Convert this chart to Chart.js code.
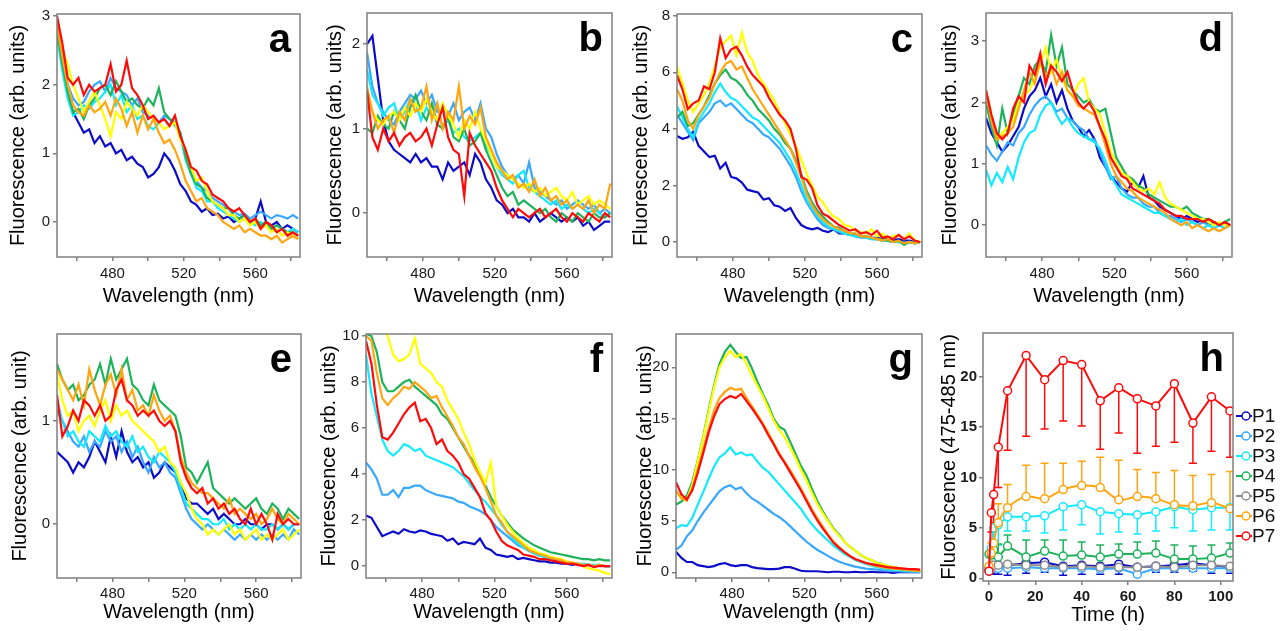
<!DOCTYPE html>
<html>
<head>
<meta charset="utf-8">
<script src="https://cdn.jsdelivr.net/npm/chart.js@4.4.0/dist/chart.umd.min.js"></script>
<style>
  body { margin: 0; background: #fff; width: 1288px; height: 631px; position: relative; overflow: hidden; }
  canvas { position: absolute; }
</style>
</head>
<body>
<canvas id="pa" width="310" height="310" style="left:0;top:0"></canvas>
<canvas id="pb" width="310" height="310" style="left:310px;top:0"></canvas>
<canvas id="pc" width="310" height="310" style="left:620px;top:0"></canvas>
<canvas id="pd" width="358" height="310" style="left:930px;top:0"></canvas>
<canvas id="pe" width="310" height="321" style="left:0;top:310px"></canvas>
<canvas id="pf" width="310" height="321" style="left:310px;top:310px"></canvas>
<canvas id="pg" width="310" height="321" style="left:620px;top:310px"></canvas>
<canvas id="ph" width="358" height="321" style="left:930px;top:310px"></canvas>
<script>
const FONT = "'Liberation Sans', Arial, sans-serif";
Chart.defaults.font.family = FONT;

// wavelength grid shared by panels a-g (nm)
const wavelengths = [449, 452, 455, 458, 461, 464, 467, 470, 473, 476, 479, 482, 485, 488, 491, 494, 497, 500, 503, 506,
  509, 512, 515, 518, 521, 524, 527, 530, 533, 536, 539, 542, 545, 548, 551, 554, 557, 560, 563, 566,
  569, 572, 575, 578, 581, 584];

const seriesNames = ["P1", "P2", "P3", "P4", "P5", "P6", "P7"];
const spectraColors = ["#0b0bc8", "#38a8ff", "#14eaff", "#1db35a", "#ffff00", "#ffa510", "#ff0a0a"];
const timeColors = ["#0b0bc8", "#38a8ff", "#14eaff", "#1db35a", "#8c8c8c", "#ffa510", "#ff0a0a"];

// panel a
const aP1 = [2.7,2.4,1.9,1.6,1.45,1.3,1.35,1.15,1.25,1.1, 1.15,1.0,1.05,0.9,0.95,0.85,0.8,0.65,0.7,0.8, 1.0,0.9,0.75,0.55,0.45,0.3,0.25,0.15,0.2,0.1, 0.12,0.05,0.08,0.0,0.05,0.1,0.0,0.05,0.3,0.0, -0.05,0.0,-0.1,-0.05,-0.1,-0.15];
const aP2 = [2.9,2.4,2.0,1.8,1.7,1.75,1.9,2.0,2.05,1.9, 2.1,1.95,1.9,1.85,1.7,1.8,1.6,1.55,1.5,1.45, 1.55,1.5,1.4,1.3,1.0,0.75,0.6,0.5,0.45,0.35, 0.3,0.25,0.2,0.15,0.1,0.12,0.05,0.1,0.15,0.1, 0.05,0.1,0.08,0.05,0.1,0.05];
const aP3 = [2.7,2.2,1.8,1.55,1.6,1.7,1.65,1.75,1.8,1.9, 2.0,1.7,1.85,1.6,1.7,1.5,1.55,1.4,1.35,1.45, 1.5,1.4,1.45,1.25,0.9,0.7,0.5,0.45,0.3,0.3, 0.2,0.15,0.1,0.05,0.0,0.05,0.0,-0.05,0.0,-0.05, -0.1,-0.05,-0.1,-0.15,-0.1,-0.15];
const aP4 = [2.8,2.3,1.9,1.6,1.65,1.5,1.7,1.8,1.95,2.0, 1.85,2.05,1.9,1.75,1.8,1.7,1.65,1.8,1.7,1.95, 1.6,1.5,1.45,1.3,0.95,0.7,0.55,0.5,0.35,0.3, 0.25,0.2,0.2,0.1,0.05,0.1,0.0,0.05,-0.05,0.0, -0.1,-0.05,-0.1,-0.15,-0.15,-0.2];
const aP5 = [2.9,2.5,2.3,2.0,1.8,1.6,1.75,1.9,1.7,1.5, 1.25,1.6,1.5,1.75,1.65,1.55,1.7,1.6,1.5,1.45, 1.35,1.4,1.45,1.2,1.05,0.8,0.6,0.65,0.45,0.3, 0.25,0.2,0.1,0.1,0.0,0.05,-0.05,0.0,-0.1,-0.05, -0.15,-0.1,-0.2,-0.15,-0.2,-0.25];
const aP6 = [2.9,2.4,2.0,1.7,1.6,1.55,1.7,1.6,1.65,1.75, 1.55,1.8,1.65,1.4,1.6,1.3,1.55,1.35,1.5,1.3, 1.15,1.2,1.05,0.85,0.6,0.45,0.3,0.35,0.2,0.15, 0.1,0.0,-0.05,-0.1,-0.05,-0.15,-0.1,-0.15,-0.2,-0.2, -0.25,-0.2,-0.3,-0.25,-0.2,-0.25];
const aP7 = [3.0,2.6,2.1,2.0,2.1,1.85,2.0,1.9,1.95,2.0, 2.3,1.9,2.0,2.35,1.95,1.85,1.7,1.5,1.55,1.45, 1.5,1.4,1.55,1.25,1.05,0.8,0.75,0.6,0.55,0.4, 0.35,0.3,0.2,0.15,0.2,0.1,0.0,0.05,-0.1,0.0, -0.05,-0.15,-0.1,-0.2,-0.15,-0.2];

// panel b
const bP1 = [2.0,2.1,1.6,1.1,0.85,0.75,0.7,0.65,0.6,0.7, 0.6,0.65,0.55,0.55,0.4,0.6,0.5,0.55,0.6,0.45, 0.7,0.6,0.4,0.3,0.15,0.1,0.0,0.05,-0.05,-0.05, -0.1,0.0,-0.1,-0.05,0.0,-0.05,-0.1,-0.05,-0.1,-0.05, -0.15,-0.1,-0.2,-0.15,-0.1,-0.1];
const bP2 = [1.9,1.5,1.3,1.2,1.1,1.05,1.2,1.3,1.4,1.35, 1.45,1.3,1.4,1.2,1.25,1.15,1.3,1.1,1.2,1.25, 1.1,1.3,1.0,0.9,0.7,0.55,0.45,0.4,0.45,0.35, 0.6,0.3,0.25,0.2,0.15,0.1,0.15,0.05,0.1,0.15, 0.1,0.05,0.1,0.0,0.05,0.0];
const bP3 = [1.7,1.4,1.3,1.15,1.25,1.3,1.1,1.2,1.35,1.3, 1.1,1.25,1.15,1.3,1.0,1.1,0.95,1.0,0.9,0.85, 0.9,0.95,0.8,0.7,0.55,0.45,0.4,0.35,0.45,0.5, 0.3,0.25,0.2,0.15,0.1,0.15,0.05,0.1,0.05,0.1, 0.05,0.0,0.05,0.0,-0.05,0.0];
const bP4 = [1.0,0.95,1.15,1.05,1.0,1.2,1.1,1.0,1.25,1.4, 1.2,1.1,1.3,1.05,1.0,1.15,0.9,0.85,1.0,0.8, 0.85,0.95,0.75,0.6,0.45,0.3,0.2,0.25,0.1,0.15, 0.1,0.05,0.0,0.05,-0.05,-0.1,0.0,-0.05,-0.1,0.0, -0.05,-0.1,0.0,-0.05,-0.05,0.0];
const bP5 = [1.4,1.2,1.1,1.05,1.15,1.2,1.1,1.25,1.15,1.3, 1.2,1.35,1.2,1.1,1.3,1.15,1.05,0.9,1.1,1.0, 1.2,1.0,0.85,0.7,0.55,0.5,0.45,0.4,0.35,0.3, 0.35,0.25,0.3,0.2,0.25,0.3,0.2,0.15,0.25,0.1, 0.15,0.2,0.1,0.15,0.1,0.05];
const bP6 = [1.5,1.2,1.0,1.1,1.15,0.95,1.2,1.1,1.35,1.2, 1.25,1.5,1.1,1.3,1.0,1.2,1.1,1.5,1.0,1.15, 1.05,1.25,0.9,0.75,0.6,0.5,0.4,0.45,0.3,0.35, 0.25,0.4,0.2,0.3,0.15,0.2,0.1,0.15,0.05,0.1, 0.05,0.15,0.0,0.1,0.05,0.35];
const bP7 = [1.45,0.9,0.75,1.0,0.85,0.95,0.8,0.9,0.95,0.85, 0.9,1.0,0.8,1.05,1.25,0.9,0.75,0.7,0.2,0.95, 0.8,0.7,0.6,0.5,0.3,0.15,0.05,-0.05,0.05,0.0, -0.05,0.0,0.05,-0.05,0.0,0.05,-0.05,-0.1,0.0,-0.05, -0.1,0.0,-0.05,-0.1,0.0,-0.05];

// panel c
const cP1 = [3.75,3.65,3.7,3.9,3.4,3.2,3.0,3.05,2.6,2.8, 2.3,2.25,2.1,1.85,1.8,1.75,1.5,1.55,1.3,1.25, 1.1,1.2,0.85,0.6,0.5,0.45,0.5,0.4,0.35,0.45, 0.3,0.3,0.25,0.25,0.2,0.2,0.15,0.15,0.1,0.1, 0.05,0.1,0.05,0.05,0.0,0.0];
const cP2 = [4.5,4.2,3.9,3.6,4.2,4.4,4.6,4.9,5.0,4.8, 4.9,4.7,4.5,4.3,4.2,4.0,3.8,3.7,3.5,3.3, 3.0,2.7,2.3,1.8,1.4,1.1,0.8,0.6,0.5,0.45, 0.35,0.3,0.25,0.2,0.15,0.15,0.1,0.1,0.05,0.05, 0.0,0.0,-0.05,0.0,-0.05,0.0];
const cP3 = [4.8,4.4,4.0,3.7,4.3,4.6,4.9,5.3,5.6,5.3, 5.1,5.0,4.8,4.6,4.4,4.3,4.1,3.9,3.7,3.5, 3.2,2.9,2.5,2.0,1.5,1.2,0.9,0.7,0.55,0.45, 0.4,0.3,0.25,0.2,0.2,0.15,0.1,0.1,0.05,0.05, 0.0,0.0,-0.05,0.0,-0.05,0.0];
const cP4 = [4.4,4.6,4.1,4.2,4.5,4.8,5.2,5.6,5.9,6.1, 5.8,5.7,5.5,5.2,5.0,4.7,4.5,4.3,4.0,3.8, 3.5,3.3,2.9,2.4,1.8,1.4,1.1,0.9,0.7,0.55, 0.5,0.4,0.3,0.3,0.2,0.2,0.15,0.1,0.1,0.05, 0.0,0.05,-0.1,0.0,-0.05,0.0];
const cP5 = [6.2,5.6,5.0,4.6,4.9,5.2,5.6,6.2,6.9,7.1, 7.3,6.6,7.4,6.7,6.4,5.9,5.6,5.3,5.0,4.6, 4.2,3.8,3.4,2.9,2.4,2.0,1.6,1.4,1.1,0.9, 0.8,0.6,0.55,0.4,0.35,0.3,0.45,0.2,0.3,0.15, 0.2,0.25,0.1,0.3,0.05,0.0];
const cP6 = [5.4,5.0,4.3,4.0,4.5,4.8,5.1,5.6,6.0,6.3, 6.4,6.1,6.2,5.8,5.4,5.1,4.8,4.5,4.2,3.9, 3.6,3.3,2.8,2.3,1.7,1.3,1.0,0.8,0.65,0.55, 0.45,0.4,0.3,0.3,0.2,0.2,0.15,0.1,0.05,0.1, 0.0,0.05,-0.05,0.0,-0.05,0.0];
const cP7 = [5.9,5.4,4.7,4.9,5.0,5.5,5.4,6.0,7.2,6.5, 6.8,6.9,6.6,6.2,5.9,5.7,5.5,5.1,4.8,4.5, 4.3,4.0,3.3,2.3,2.2,1.9,1.3,1.0,0.9,0.75, 0.6,0.5,0.4,0.45,0.3,0.35,0.25,0.4,0.15,0.2, 0.1,0.25,0.1,0.2,0.05,0.0];

// panel d
const dP1 = [1.75,1.5,1.35,1.2,1.3,1.45,1.6,1.9,2.1,2.2, 2.4,2.1,2.3,2.0,2.2,1.9,1.7,1.6,1.45,1.55, 1.4,1.1,0.95,0.8,0.7,0.6,0.55,0.7,0.6,0.8, 0.45,0.4,0.3,0.25,0.2,0.15,0.1,0.15,0.1,0.05, 0.1,0.0,0.05,0.0,0.05,0.0];
const dP2 = [1.3,1.15,1.05,1.2,1.35,1.3,1.5,1.6,1.8,1.95, 2.05,2.1,2.0,1.85,1.9,1.75,1.7,1.6,1.55,1.4, 1.4,1.2,0.95,0.75,0.8,0.6,0.5,0.45,0.45,0.35, 0.3,0.3,0.2,0.15,0.15,0.1,0.05,0.1,0.05,0.0, 0.05,0.0,-0.05,0.0,-0.05,0.0];
const dP3 = [0.9,0.65,0.85,0.7,0.95,0.75,1.1,1.35,1.5,1.55, 1.8,1.95,2.0,1.8,1.65,1.75,1.6,1.5,1.45,1.4, 1.35,1.25,1.05,0.8,0.65,0.5,0.45,0.4,0.35,0.3, 0.25,0.2,0.2,0.15,0.1,0.05,0.1,0.0,0.05,0.0, -0.05,0.0,-0.05,0.0,-0.05,0.0];
const dP4 = [2.0,1.6,1.3,1.9,1.5,1.8,2.1,2.4,2.3,2.6, 2.7,2.5,3.1,2.6,2.9,2.3,2.2,2.1,2.0,2.05, 1.9,1.85,1.9,1.5,1.1,0.95,0.8,0.75,0.65,0.6, 0.5,0.45,0.4,0.35,0.3,0.3,0.25,0.3,0.2,0.15, 0.1,0.1,0.05,0.0,0.05,0.1];
const dP5 = [2.2,1.8,1.4,1.5,1.6,1.7,2.0,2.1,2.2,2.4, 2.6,2.9,2.5,2.7,2.4,2.2,2.1,2.3,2.4,2.0, 1.9,1.8,1.5,1.2,1.0,0.85,0.8,0.7,0.6,0.55, 0.6,0.5,0.7,0.45,0.35,0.3,0.25,0.2,0.15,0.1, 0.1,0.05,0.0,0.05,0.0,0.0];
const dP6 = [2.2,1.7,1.4,1.45,1.5,1.6,1.9,2.2,2.5,2.3, 2.7,2.4,2.6,2.3,2.5,2.2,2.1,1.95,1.9,1.85, 1.8,1.6,1.3,1.0,0.8,0.7,0.6,0.55,0.45,0.4, 0.35,0.3,0.25,0.2,0.1,0.05,0.0,0.05,-0.05,0.0, -0.05,-0.1,-0.05,-0.1,-0.05,0.0];
const dP7 = [2.2,1.8,1.5,1.4,1.5,1.9,2.1,2.0,2.6,2.45, 2.8,2.3,2.6,2.5,2.35,2.5,2.2,2.0,1.9,2.0, 1.85,1.6,1.4,1.1,0.95,0.8,0.75,0.6,0.55,0.5, 0.45,0.4,0.35,0.25,0.2,0.15,0.15,0.1,0.1,0.1, 0.05,0.1,0.05,0.0,0.05,0.0];

// panel e
const eP1 = [0.7,0.65,0.6,0.5,0.6,0.55,0.65,0.8,0.7,0.6, 0.85,0.65,0.9,0.7,0.6,0.65,0.55,0.6,0.45,0.5, 0.6,0.55,0.5,0.4,0.25,0.2,0.2,0.15,0.1,0.15, 0.05,0.1,0.05,0.0,0.0,0.05,0.0,0.0,-0.05,0.0, 0.0,-0.05,0.0,-0.05,0.0,0.0];
const eP2 = [1.1,1.0,0.9,0.8,0.75,0.85,0.7,0.8,0.75,0.9, 0.8,0.85,0.7,0.8,0.65,0.75,0.6,0.5,0.65,0.55, 0.6,0.5,0.45,0.3,0.15,0.05,0.0,-0.05,0.0,-0.05, -0.1,-0.05,-0.1,-0.15,-0.1,-0.15,-0.1,-0.15,-0.1,-0.15, -0.1,-0.15,-0.1,-0.15,-0.05,-0.1];
const eP3 = [1.2,1.0,0.85,0.9,0.8,0.75,0.9,0.85,0.8,0.95, 0.85,0.9,0.8,0.75,0.85,0.7,0.75,0.65,0.6,0.7, 0.65,0.6,0.5,0.35,0.2,0.15,0.1,0.05,0.05,0.0, 0.0,0.05,-0.05,0.0,-0.05,0.0,-0.05,0.0,-0.05,-0.05, 0.0,-0.05,0.0,-0.05,0.0,0.0];
const eP4 = [1.55,1.4,1.3,1.35,1.2,1.25,1.35,1.4,1.55,1.35, 1.6,1.4,1.5,1.6,1.35,1.3,1.2,1.15,1.35,1.2, 1.15,1.1,1.05,0.85,0.55,0.5,0.4,0.5,0.6,0.35, 0.3,0.25,0.2,0.25,0.2,0.15,0.2,0.25,0.15,0.1, 0.2,0.15,0.05,0.15,0.1,0.05];
const eP5 = [1.45,1.2,1.05,1.1,0.9,1.0,1.05,0.95,1.1,1.2, 1.0,1.15,1.05,1.1,1.0,0.95,0.9,0.85,0.8,0.7, 0.75,0.6,0.55,0.4,0.3,0.15,0.05,0.0,-0.1,-0.05, -0.1,-0.05,0.0,-0.1,-0.05,-0.15,-0.1,-0.05,-0.15,-0.1, -0.15,-0.1,-0.05,-0.15,-0.1,-0.05];
const eP6 = [1.5,1.4,1.3,1.2,1.35,1.15,1.5,1.3,1.15,1.35, 1.45,1.25,1.5,1.2,1.3,1.1,1.15,1.05,1.25,1.1, 1.0,1.05,0.9,0.65,0.5,0.4,0.35,0.3,0.3,0.25, 0.2,0.15,0.25,0.1,0.15,0.1,0.05,0.1,0.0,0.05, 0.15,0.05,0.0,0.1,0.05,0.0];
const eP7 = [1.25,0.85,0.95,1.1,1.0,1.2,1.15,1.05,1.15,1.0, 1.05,1.3,1.4,1.2,1.15,1.05,1.1,1.05,1.1,1.0, 0.95,1.0,0.9,0.6,0.45,0.35,0.3,0.35,0.2,0.25, 0.15,0.2,0.1,0.15,0.05,0.0,0.15,0.0,0.1,0.0, -0.15,0.1,0.0,0.05,0.0,0.0];

// panel f
const fP1 = [2.2,2.1,1.7,1.3,1.4,1.5,1.4,1.6,1.5,1.45, 1.55,1.5,1.4,1.35,1.3,1.1,1.2,0.95,1.05,1.0, 0.95,1.2,0.8,0.7,0.5,0.45,0.4,0.45,0.3,0.35, 0.3,0.25,0.2,0.2,0.15,0.15,0.1,0.1,0.05,0.1, 0.05,0.05,0.0,0.05,0.0,0.0];
const fP2 = [4.5,4.2,3.8,3.1,3.1,3.3,3.0,3.4,3.4,3.5, 3.5,3.3,3.2,3.1,3.05,3.0,2.95,2.8,2.75,2.6, 2.5,2.4,2.25,2.0,1.7,1.5,1.3,1.1,0.9,0.8, 0.65,0.55,0.45,0.4,0.3,0.25,0.2,0.15,0.1,0.1, 0.05,0.05,0.0,0.05,0.0,0.0];
const fP3 = [9.2,7.5,6.5,5.5,5.0,4.8,5.0,5.3,5.2,5.0, 5.1,4.8,4.7,4.6,4.5,4.4,4.3,4.1,3.9,3.6, 3.3,3.0,2.8,2.5,2.2,1.8,1.5,1.2,1.0,0.8, 0.7,0.55,0.45,0.4,0.3,0.25,0.2,0.15,0.15,0.1, 0.1,0.05,0.05,0.05,0.0,0.0];
const fP4 = [10.1,10.0,9.3,8.0,7.6,7.6,7.8,8.0,8.1,7.8, 7.6,7.4,7.2,7.0,6.6,6.4,6.0,5.6,5.2,4.8, 4.5,4.0,3.5,3.0,2.6,2.2,1.9,1.6,1.4,1.2, 1.05,0.9,0.8,0.7,0.6,0.55,0.5,0.45,0.4,0.35, 0.3,0.3,0.25,0.3,0.25,0.25];
const fP5 = [11.0,10.8,10.6,10.4,10.0,9.2,8.9,9.0,9.2,9.9, 8.8,8.6,8.4,8.0,7.8,7.2,6.8,6.4,5.8,5.3, 4.6,4.1,3.6,4.5,2.6,2.2,1.8,1.5,1.2,1.0, 0.8,0.7,0.55,0.5,0.4,0.35,0.3,0.2,0.15,0.1, 0.0,-0.1,-0.15,-0.2,-0.3,-0.35];
const fP6 = [10.0,9.8,8.4,7.3,7.0,7.3,7.5,7.8,7.7,8.0, 7.8,7.6,7.3,7.4,6.9,6.5,6.1,5.6,5.3,4.8, 4.3,3.9,3.4,2.8,2.2,1.9,1.5,1.3,1.1,0.9, 0.7,0.6,0.5,0.45,0.35,0.3,0.25,0.15,0.15,0.1, 0.05,0.05,0.0,0.05,0.0,0.0];
const fP7 = [9.8,8.8,7.0,5.6,5.5,5.8,6.2,6.6,6.9,7.1, 6.3,6.4,6.0,5.3,5.5,5.0,4.8,4.5,4.0,3.8, 3.4,3.0,2.3,2.0,1.5,1.1,0.9,0.8,0.7,0.5, 0.45,0.4,0.3,0.3,0.25,0.2,0.15,0.1,0.1,0.05, 0.0,0.05,-0.05,0.0,0.0,0.0];

// panel g
const gP1 = [2.0,1.4,1.0,1.0,0.7,0.6,0.5,0.6,0.8,0.9, 0.7,0.6,0.7,0.7,0.5,0.4,0.35,0.3,0.3,0.35, 0.5,0.5,0.35,0.15,0.1,0.1,0.1,0.05,0.0,0.05, 0.05,0.0,0.0,0.05,0.0,0.0,0.05,0.0,0.0,0.0, -0.05,0.0,0.0,0.0,0.0,0.0];
const gP2 = [2.2,2.6,3.5,4.1,5.0,5.8,6.5,7.2,7.9,8.3, 8.5,8.1,8.3,7.7,7.2,6.9,6.5,6.1,5.7,5.4, 5.0,4.5,4.0,3.5,3.0,2.6,2.2,1.9,1.6,1.3, 1.05,0.85,0.7,0.55,0.45,0.35,0.3,0.25,0.2,0.15, 0.1,0.1,0.05,0.05,0.0,0.0];
const gP3 = [4.3,4.6,4.5,5.3,6.6,7.8,9.1,10.3,11.2,11.6, 12.2,11.5,11.7,11.4,11.5,10.8,10.2,9.8,9.2,8.6, 8.0,7.4,6.8,6.2,5.4,4.7,4.1,3.6,3.1,2.6, 2.2,1.8,1.5,1.2,1.0,0.8,0.65,0.5,0.4,0.3, 0.25,0.2,0.15,0.1,0.1,0.05];
const gP4 = [6.6,6.9,7.5,8.8,10.9,13.2,15.8,18.2,20.3,21.5, 22.2,21.5,20.9,21.0,19.9,18.6,17.4,16.3,15.0,14.2, 13.9,12.8,11.6,10.4,9.5,8.2,7.0,6.0,5.1,4.3, 3.7,3.0,2.5,2.1,1.7,1.4,1.2,0.9,0.8,0.6, 0.5,0.4,0.3,0.25,0.2,0.1];
const gP5 = [7.8,7.3,7.1,8.5,10.8,13.1,15.6,18.0,20.0,21.0, 21.6,21.0,21.3,20.3,19.2,18.2,17.2,16.0,14.8,13.9, 13.2,12.2,11.2,10.0,9.0,7.8,6.7,5.8,5.0,4.2, 3.6,3.0,2.5,2.1,1.7,1.4,1.2,0.9,0.8,0.6, 0.5,0.4,0.3,0.25,0.2,0.1];
const gP6 = [8.0,7.2,7.0,8.2,10.0,12.0,14.0,15.8,17.0,17.6, 18.0,17.8,17.9,17.0,16.2,15.4,14.5,13.6,12.6,11.6, 10.8,10.0,9.1,8.2,7.2,6.2,5.3,4.5,3.7,3.0, 2.5,2.0,1.6,1.3,1.1,0.9,0.75,0.6,0.5,0.4, 0.35,0.3,0.25,0.2,0.15,0.1];
const gP7 = [8.8,7.6,7.1,8.0,9.7,11.6,13.6,15.2,16.4,16.9, 17.2,17.0,17.4,16.7,16.0,15.2,14.4,13.4,12.5,11.5, 10.7,9.8,8.9,8.0,7.0,6.0,5.1,4.3,3.6,2.9, 2.4,2.0,1.6,1.3,1.1,0.9,0.8,0.7,0.6,0.5, 0.45,0.4,0.35,0.3,0.3,0.25];

// panel h: mean fluorescence (475-485 nm) over time, with one-sided error bars
const times = [0, 1, 2, 4, 8, 16, 24, 32, 40, 48, 56, 64, 72, 80, 88, 96, 104];
const hP1 = [0.8,1.0,1.2,1.3,1.3,1.5,1.6,1.2,1.3,1.2,1.4,1.1,1.2,1.3,1.5,1.3,1.1];
const hP2 = [0.7,0.9,1.0,1.0,1.0,1.1,1.0,1.0,1.0,0.9,1.0,0.4,1.0,1.0,1.0,1.0,1.0];
const hP3 = [1.0,3.0,5.0,5.3,6.1,6.1,6.2,7.1,7.3,6.6,6.4,6.3,6.6,7.1,6.8,7.0,7.0];
const hP4 = [2.4,2.3,2.8,2.1,3.2,2.1,2.7,2.2,2.3,2.1,2.4,2.4,2.5,1.9,1.9,2.0,2.5];
const hP5 = [1.0,1.3,1.3,1.3,1.4,1.3,1.3,1.1,1.2,1.1,1.1,1.1,1.2,1.1,1.3,1.3,1.2];
const hP6 = [1.2,2.5,3.5,5.5,7.0,8.1,7.9,8.8,9.2,9.0,7.8,8.1,7.9,7.3,7.2,7.5,6.9];
const hP7 = [0.7,6.5,8.3,13.0,18.6,22.1,19.7,21.6,21.2,17.6,18.9,17.8,17.1,19.3,15.4,18.0,16.6];
const hP1Err = [null,0.5,0.4,0.4,0.3,0.5,0.6,0.3,0.4,0.4,0.4,0.3,0.6,0.6,0.7,0.5,0.5];
const hP3Err = [null,null,null,3.3,4.7,4.7,4.5,4.8,5.3,4.4,4.6,4.4,4.7,5.0,4.7,4.8,4.8];
const hP4Err = [null,3.0,3.5,3.4,4.3,3.8,3.8,3.8,3.6,3.3,3.4,3.6,3.7,3.3,3.2,3.3,3.5];
const hP6Err = [null,3.5,5.0,7.4,9.3,11.2,11.4,11.4,11.6,12.0,11.7,10.8,10.5,10.7,10.2,10.3,10.6];
const hP7Err = [null,4.6,5.5,9.0,12.7,14.1,14.8,15.6,15.1,12.8,14.4,12.4,13.1,13.5,11.4,12.6,12.0];

// frame around the plot area plus the panel letter
const frame = {
  id: "frame",
  afterDatasetsDraw(chart, args, opts) {
    const { ctx, chartArea: ca } = chart;
    ctx.save();
    ctx.strokeStyle = "#7f7f7f";
    ctx.lineWidth = 1.5;
    ctx.strokeRect(ca.left, ca.top, ca.right - ca.left, ca.bottom - ca.top);
    ctx.fillStyle = "#000";
    ctx.font = "bold 40px " + FONT;
    ctx.textAlign = "right";
    ctx.textBaseline = "alphabetic";
    ctx.fillText(opts.letter, ca.right - 9, ca.top + 38);
    ctx.restore();
  },
};

function axisFont(size, weight) {
  return { family: FONT, size: size, weight: weight || "normal" };
}

function spectrumPanel(id, series, cfg) {
  new Chart(document.getElementById(id), {
    type: "line",
    data: {
      datasets: series.map((vals, i) => ({
        label: seriesNames[i],
        data: wavelengths.map((w, j) => ({ x: w, y: vals[j] })),
        borderColor: spectraColors[i],
        borderWidth: 2.2,
        pointRadius: 0,
        tension: 0,
        order: series.length - i,
      })),
    },
    options: {
      responsive: false,
      animation: false,
      events: [],
      layout: { padding: { top: cfg.top, right: cfg.right, left: 0, bottom: 0 } },
      plugins: { legend: { display: false }, tooltip: { enabled: false }, frame: { letter: cfg.letter } },
      scales: {
        x: {
          type: "linear",
          min: 449,
          max: 585,
          afterFit(scale) { scale.height = cfg.xh; },
          ticks: {
            stepSize: 20,
            includeBounds: false,
            autoSkip: false,
            maxRotation: 0,
            padding: cfg.xtick,
            color: "#1a1a1a",
            font: axisFont(15),
            callback: (v) => (v % 40 === 0 ? String(v) : ""),
          },
          grid: { drawOnChartArea: false, tickLength: 4, color: "#7f7f7f", lineWidth: 1.5 },
          border: { display: false },
          title: { display: true, text: "Wavelength (nm)", color: "#000", font: axisFont(20), padding: { top: 0, bottom: cfg.xtp } },
        },
        y: {
          min: cfg.ymin,
          max: cfg.ymax,
          afterFit(scale) { scale.width = cfg.yw; },
          ticks: { stepSize: cfg.step, includeBounds: false, padding: 3, color: "#1a1a1a", font: axisFont(15) },
          grid: { drawOnChartArea: false, tickLength: 4, color: "#7f7f7f", lineWidth: 1.5 },
          border: { display: false },
          title: { display: true, text: cfg.ytitle || "Fluorescence (arb. units)", color: "#000", font: axisFont(20), padding: { top: cfg.ytp, bottom: 0 } },
        },
      },
    },
    plugins: [frame],
  });
}

spectrumPanel("pa", [aP1, aP2, aP3, aP4, aP5, aP6, aP7],
  { letter: "a", ymin: -0.51, ymax: 3.03, step: 1, yw: 57, right: 10, top: 14, xh: 53, xtick: 4, xtp: 2, ytp: 6.5 });
spectrumPanel("pb", [bP1, bP2, bP3, bP4, bP5, bP6, bP7],
  { letter: "b", ymin: -0.52, ymax: 2.37, step: 1, yw: 57, right: 8, top: 13, xh: 53, xtick: 4, xtp: 2, ytp: 13.5 });
spectrumPanel("pc", [cP1, cP2, cP3, cP4, cP5, cP6, cP7],
  { letter: "c", ymin: -0.53, ymax: 8.06, step: 2, yw: 57, right: 8, top: 14, xh: 53, xtick: 4, xtp: 2, ytp: 9.5 });
spectrumPanel("pd", [dP1, dP2, dP3, dP4, dP5, dP6, dP7],
  { letter: "d", ymin: -0.52, ymax: 3.46, step: 1, yw: 56, right: 56, top: 13, xh: 53, xtick: 4, xtp: 2, ytp: 8 });
spectrumPanel("pe", [eP1, eP2, eP3, eP4, eP5, eP6, eP7],
  { letter: "e", ymin: -0.52, ymax: 1.84, step: 1, yw: 57, right: 9, top: 24, xh: 53, xtick: 3, xtp: 7, ytp: 8, ytitle: "Fluorescence (arb. unit)" });
spectrumPanel("pf", [fP1, fP2, fP3, fP4, fP5, fP6, fP7],
  { letter: "f", ymin: -0.52, ymax: 10.09, step: 2, yw: 56, right: 8, top: 24, xh: 53, xtick: 3, xtp: 7, ytp: 7.5 });
spectrumPanel("pg", [gP1, gP2, gP3, gP4, gP5, gP6, gP7],
  { letter: "g", ymin: -0.56, ymax: 23.25, step: 5, yw: 56, right: 8, top: 24, xh: 53, xtick: 3, xtp: 7, ytp: 13.5 });

// one-sided error bars for panel h
const errorBars = {
  id: "errorBars",
  beforeDatasetsDraw(chart) {
    const { ctx, chartArea: ca, scales } = chart;
    ctx.save();
    ctx.beginPath();
    ctx.rect(ca.left, ca.top, ca.right - ca.left, ca.bottom - ca.top);
    ctx.clip();
    ctx.lineWidth = 1.5;
    chart.data.datasets.forEach((ds) => {
      if (!ds.errEnd) return;
      ctx.strokeStyle = ds.borderColor;
      ds.data.forEach((p, j) => {
        const end = ds.errEnd[j];
        if (end === null || end === undefined) return;
        const x = scales.x.getPixelForValue(p.x);
        const y0 = scales.y.getPixelForValue(p.y);
        const y1 = scales.y.getPixelForValue(end);
        ctx.beginPath();
        ctx.moveTo(x, y0);
        ctx.lineTo(x, y1);
        ctx.moveTo(x - 4, y1);
        ctx.lineTo(x + 4, y1);
        ctx.stroke();
      });
    });
    ctx.restore();
  },
};

// legend drawn to the right of panel h: line, open circle, label
const sideLegend = {
  id: "sideLegend",
  afterDraw(chart) {
    const { ctx, chartArea: ca } = chart;
    ctx.save();
    ctx.font = "19px " + FONT;
    ctx.textBaseline = "middle";
    ctx.textAlign = "left";
    chart.data.datasets.forEach((ds, i) => {
      const y = ca.top + 83 + i * 20;
      ctx.strokeStyle = ds.borderColor;
      ctx.lineWidth = 2;
      ctx.beginPath();
      ctx.moveTo(ca.right + 3, y);
      ctx.lineTo(ca.right + 19, y);
      ctx.stroke();
      ctx.beginPath();
      ctx.arc(ca.right + 13, y, 4, 0, Math.PI * 2);
      ctx.fillStyle = "#fff";
      ctx.fill();
      ctx.lineWidth = 1.5;
      ctx.stroke();
      ctx.fillStyle = "#111";
      ctx.fillText(ds.label, ca.right + 19, y + 1);
    });
    ctx.restore();
  },
};

const timeSeries = [hP1, hP2, hP3, hP4, hP5, hP6, hP7];
const timeErrors = [hP1Err, null, hP3Err, hP4Err, null, hP6Err, hP7Err];

new Chart(document.getElementById("ph"), {
  type: "line",
  data: {
    datasets: timeSeries.map((vals, i) => ({
      label: seriesNames[i],
      data: times.map((t, j) => ({ x: t, y: vals[j] })),
      borderColor: timeColors[i],
      borderWidth: 2,
      pointRadius: 4,
      pointBorderWidth: 1.5,
      pointBackgroundColor: "#fff",
      pointBorderColor: timeColors[i],
      tension: i === 5 ? 0.35 : 0,
      errEnd: timeErrors[i],
      order: timeSeries.length - i,
    })),
  },
  options: {
    responsive: false,
    animation: false,
    events: [],
    layout: { padding: { top: 23, right: 55, left: 0, bottom: 0 } },
    plugins: { legend: { display: false }, tooltip: { enabled: false }, frame: { letter: "h" } },
    scales: {
      x: {
        type: "linear",
        min: -2.6,
        max: 105.3,
        afterFit(scale) { scale.height = 50; },
        ticks: { stepSize: 20, includeBounds: false, autoSkip: false, maxRotation: 0, padding: 3, color: "#1a1a1a", font: axisFont(15, "bold") },
        grid: { drawOnChartArea: false, tickLength: 4, color: "#7f7f7f", lineWidth: 1.5 },
        border: { display: false },
        title: { display: true, text: "Time (h)", color: "#000", font: axisFont(20), padding: { top: 0, bottom: 4 } },
      },
      y: {
        min: -0.27,
        max: 24.33,
        afterFit(scale) { scale.width = 53; },
        ticks: { stepSize: 5, includeBounds: false, padding: 2, color: "#1a1a1a", font: axisFont(15, "bold") },
        grid: { drawOnChartArea: false, tickLength: 4, color: "#7f7f7f", lineWidth: 1.5 },
        border: { display: false },
        title: { display: true, text: "Fluorescence (475-485 nm)", color: "#000", font: axisFont(20), padding: { top: 7, bottom: 0 } },
      },
    },
  },
  plugins: [errorBars, frame, sideLegend],
});
</script>
</body>
</html>
